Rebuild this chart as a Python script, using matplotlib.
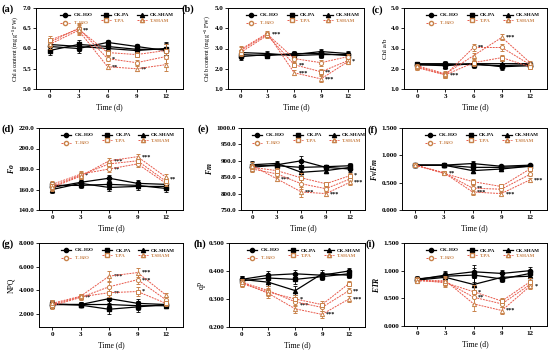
import matplotlib
matplotlib.use("Agg")
import matplotlib.pyplot as plt
from matplotlib.lines import Line2D

plt.rcParams['font.family'] = ['Liberation Serif', 'DejaVu Serif']
plt.rcParams['font.weight'] = 'bold'
plt.rcParams['mathtext.fontset'] = 'custom'
plt.rcParams['mathtext.rm'] = 'Liberation Serif:bold'
plt.rcParams['mathtext.it'] = 'Liberation Serif:italic:bold'

days = [0, 3, 6, 9, 12]
series_names = ["CK-H$_2$O", "CK-PA", "CK-SHAM", "T-H$_2$O", "T-PA", "T-SHAM"]

# panel (a) Chl a
a_vals = [[6.05, 6.00, 6.15, 6.05, 5.95],
          [5.95, 6.10, 6.05, 5.98, 5.98],
          [6.10, 6.05, 6.00, 5.95, 6.00],
          [6.15, 6.50, 5.75, 5.65, 5.80],
          [6.20, 6.48, 5.90, 5.85, 5.95],
          [6.10, 6.45, 5.55, 5.50, 5.60]]
a_err = [0.12, 0.12, 0.06, 0.06, 0.15]
# panel (b) Chl b
b_vals = [[2.60, 2.70, 2.70, 2.85, 2.75],
          [2.70, 2.65, 2.75, 2.75, 2.65],
          [2.80, 2.75, 2.65, 2.70, 2.70],
          [2.90, 3.70, 2.50, 2.30, 2.60],
          [2.80, 3.65, 2.20, 1.85, 2.40],
          [2.95, 3.75, 1.80, 1.50, 2.35]]
b_err = [0.15, 0.12, 0.12, 0.15, 0.12]
# panel (c) Chl a/b
c_vals = [[2.20, 2.20, 2.25, 2.10, 2.15],
          [2.25, 2.25, 2.20, 2.15, 2.20],
          [2.20, 2.15, 2.25, 2.25, 2.25],
          [2.05, 1.70, 3.05, 3.05, 2.20],
          [2.10, 1.70, 2.30, 2.55, 2.10],
          [2.15, 1.75, 2.65, 3.55, 2.30]]
c_err = [0.10, 0.15, 0.15, 0.15, 0.10]
# panel (d) Fo
d_vals = [[162, 167, 171, 166, 165],
          [164, 164, 165, 164, 161],
          [160, 166, 162, 163, 163],
          [165, 175, 180, 185, 166],
          [163, 174, 185, 188, 168],
          [162, 173, 188, 192, 172]]
d_err = [3, 3, 3, 3, 3]
# panel (e) Fm
e_vals = [[880, 888, 900, 880, 875],
          [885, 885, 880, 882, 885],
          [888, 892, 865, 870, 880],
          [875, 860, 830, 815, 845],
          [880, 870, 848, 830, 855],
          [885, 845, 805, 800, 835]]
e_err = [10, 8, 15, 6, 8]
# panel (f) Fv/Fm
f_vals = [[0.82, 0.82, 0.85, 0.80, 0.82],
          [0.82, 0.82, 0.78, 0.78, 0.80],
          [0.82, 0.82, 0.72, 0.75, 0.80],
          [0.82, 0.68, 0.40, 0.38, 0.65],
          [0.82, 0.67, 0.52, 0.43, 0.75],
          [0.82, 0.68, 0.33, 0.30, 0.55]]
f_err = [0.02, 0.02, 0.05, 0.03, 0.03]
# panel (g) NPQ
g_vals = [[2.80, 2.80, 3.30, 2.90, 2.80],
          [2.85, 2.75, 2.40, 2.60, 2.80],
          [2.80, 2.80, 2.80, 2.70, 2.70],
          [2.70, 3.40, 4.30, 4.90, 3.20],
          [2.80, 3.45, 3.80, 3.90, 2.90],
          [2.90, 3.50, 5.20, 5.50, 3.60]]
g_err = [0.3, 0.2, 0.4, 0.4, 0.2]
# panel (h) qP
h_vals = [[0.370, 0.385, 0.390, 0.385, 0.400],
          [0.365, 0.375, 0.370, 0.380, 0.390],
          [0.370, 0.360, 0.330, 0.390, 0.385],
          [0.360, 0.330, 0.290, 0.270, 0.330],
          [0.355, 0.325, 0.300, 0.280, 0.355],
          [0.360, 0.320, 0.265, 0.245, 0.300]]
h_err = [0.012, 0.015, 0.015, 0.012, 0.01]
# panel (i) ETR
i_vals = [[0.84, 0.92, 0.98, 0.95, 1.00],
          [0.85, 0.90, 0.92, 0.85, 0.95],
          [0.83, 0.88, 0.75, 0.88, 0.90],
          [0.82, 0.80, 0.52, 0.40, 0.75],
          [0.83, 0.78, 0.62, 0.45, 0.80],
          [0.82, 0.82, 0.40, 0.28, 0.72]]
i_err = [0.05, 0.08, 0.12, 0.06, 0.06]

panel_tags = ["(a)", "(b)", "(c)", "(d)", "(e)", "(f)", "(g)", "(h)", "(i)"]
ylabels = ["Chl a content (mg g$^{-1}$ FW)", "Chl b content (mg g$^{-1}$ FW)", "Chl a/b",
           "$\\mathit{Fo}$", "$\\mathit{Fm}$", "$\\mathit{Fv/Fm}$",
           "NPQ", "qP", "$\\mathit{ETR}$"]
ylims = [(5.0, 7.0), (1.0, 5.0), (1.0, 5.0), (140, 220), (750, 1000), (0.0, 1.5),
         (0.9, 8.0), (0.2, 0.5), (0.0, 1.5)]
yticks = [[5.0, 5.5, 6.0, 6.5, 7.0], [1.0, 2.0, 3.0, 4.0, 5.0], [1.0, 2.0, 3.0, 4.0, 5.0],
          [140, 160, 180, 200, 220], [750, 800, 850, 900, 950, 1000], [0.0, 0.5, 1.0, 1.5],
          [2.0, 4.0, 6.0, 8.0], [0.2, 0.3, 0.4, 0.5], [0.0, 0.5, 1.0, 1.5]]
yfmt = ["{:.1f}", "{:.1f}", "{:.1f}", "{:.1f}", "{:.1f}", "{:.3f}", "{:.3f}", "{:.3f}", "{:.3f}"]
all_vals = [a_vals, b_vals, c_vals, d_vals, e_vals, f_vals, g_vals, h_vals, i_vals]
all_err = [a_err, b_err, c_err, d_err, e_err, f_err, g_err, h_err, i_err]

# significance marks: (day, value, text)
sig = [
    [(3, 6.45, "**"), (6, 5.75, "*"), (6, 5.55, "**"), (9, 5.50, "**")],
    [(3, 3.70, "***"), (6, 2.20, "**"), (6, 1.80, "***"), (9, 1.85, "**"), (9, 1.50, "***"), (12, 2.40, "*")],
    [(3, 1.70, "***"), (6, 3.05, "**"), (9, 3.55, "***")],
    [(3, 174, "*"), (6, 188, "***"), (6, 180, "**"), (9, 192, "***"), (12, 170, "**")],
    [(3, 845, "***"), (6, 805, "***"), (9, 800, "***"), (12, 855, "*"), (12, 835, "***")],
    [(3, 0.68, "**"), (6, 0.40, "**"), (6, 0.33, "***"), (9, 0.30, "***"), (12, 0.55, "***")],
    [(3, 3.45, "**"), (6, 5.20, "***"), (6, 3.80, "**"), (9, 5.50, "***"), (9, 4.90, "***"), (9, 3.90, "*")],
    [(6, 0.300, "*"), (6, 0.280, "***"), (9, 0.245, "***"), (12, 0.330, "**"), (12, 0.300, "***")],
    [(6, 0.62, "*"), (6, 0.52, "**"), (9, 0.28, "***"), (12, 0.72, "*")],
]

# axes boxes in pixels: left, top, right, bottom
boxes = [(36, 8, 183, 89), (228, 8, 364, 89), (404, 8, 547, 89),
         (39, 128, 183, 210), (241, 128, 365, 210), (402, 128, 547, 210),
         (39, 243, 183, 327), (229, 243, 365, 327), (404, 243, 547, 326)]
# panel tag positions in pixels (left x, centre y)
tag_pos = [(1, 9), (182, 9), (371, 10),
           (2, 129), (198, 129), (368, 130),
           (2, 244), (194, 244), (366, 244)]
ylabel_sizes = [4.3, 4.3, 5, 5.5, 5.5, 5.5, 5.5, 5.5, 5.5]

W, H = 550, 350
fig = plt.figure(figsize=(5.5, 3.5), dpi=100)

ck_color = "black"
t_line = "#e8584a"
t_mark = "#c8824a"
markers = ["o", "s", "^"]

for k in range(9):
    l, t, r, b = boxes[k]
    ax = fig.add_axes([l / W, 1 - b / H, (r - l) / W, (b - t) / H])
    vals = all_vals[k]
    err = all_err[k]
    for s in range(6):
        if s < 3:
            ax.errorbar(days, vals[s], yerr=err, color=ck_color, lw=0.9, marker=markers[s],
                        ms=3.0, mfc=ck_color, mec=ck_color, ecolor=ck_color, elinewidth=0.6,
                        capsize=1.2, capthick=0.6, zorder=3)
        else:
            ax.errorbar(days, vals[s], yerr=err, color=t_line, lw=0.7, ls=(0, (2, 1)),
                        marker=markers[s - 3], ms=3.0, mfc="white", mec=t_mark, mew=0.7,
                        ecolor=t_mark, elinewidth=0.6, capsize=1.2, capthick=0.6, zorder=4)
    for (d, v, txt) in sig[k]:
        ax.text(d + 0.45, v, txt, fontsize=4.5, ha="left", va="center", color="black")
    ax.set_xlim(-1.4, 13.8)
    ax.set_ylim(*ylims[k])
    ax.set_xticks(days)
    ax.set_xticklabels([str(d) for d in days], fontsize=5)
    ax.set_yticks(yticks[k])
    ax.set_yticklabels([yfmt[k].format(v) for v in yticks[k]], fontsize=5)
    ax.tick_params(length=2, width=0.6, pad=1.5)
    for sp in ax.spines.values():
        sp.set_linewidth(0.7)
    ax.set_xlabel("Time (d)", fontsize=5.5, labelpad=3)
    ax.set_ylabel(ylabels[k], fontsize=ylabel_sizes[k], labelpad=2)
    leg_handles = []
    for s in range(6):
        if s < 3:
            leg_handles.append(Line2D([], [], color=ck_color, lw=0.9, marker=markers[s], ms=3,
                                      mfc=ck_color, mec=ck_color))
        else:
            leg_handles.append(Line2D([], [], color=t_line, lw=0.7, ls=(0, (2, 1)),
                                      marker=markers[s - 3], ms=3, mfc="white", mec=t_mark))
    hl = [leg_handles[0], leg_handles[3], leg_handles[1], leg_handles[4], leg_handles[2], leg_handles[5]]
    nl = [series_names[0], series_names[3], series_names[1], series_names[4], series_names[2], series_names[5]]
    leg = ax.legend(hl, nl, ncol=3, loc="upper center", bbox_to_anchor=(0.55, 1.0), frameon=False,
                    fontsize=3.6, handlelength=2.0, columnspacing=1.5, handletextpad=0.6,
                    labelspacing=0.15, borderaxespad=0.3)
    for txt, col in zip(leg.get_texts(), [ck_color, t_mark] * 3):
        txt.set_color(col)
    tx, ty = tag_pos[k]
    fig.text(tx / W, 1 - ty / H, panel_tags[k], fontsize=7.5, fontweight="bold",
             ha="left", va="center")

fig.savefig("out.png", dpi=100)
